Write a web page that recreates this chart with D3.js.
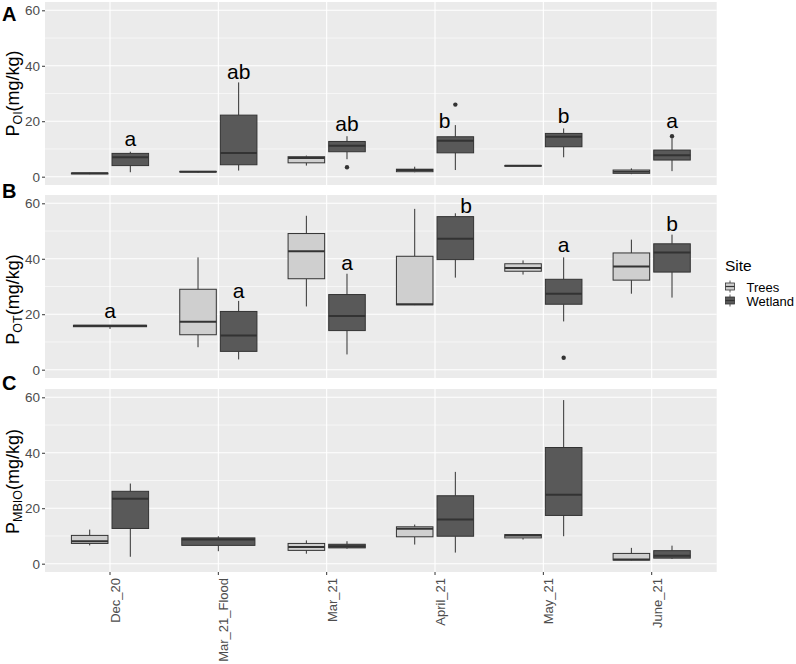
<!DOCTYPE html>
<html>
<head>
<meta charset="utf-8">
<script src="https://cdn.jsdelivr.net/npm/d3@7"></script>
<style>
	body { margin: 0; background: #fff; }
	text { font-family: "Liberation Sans", Arial, sans-serif; }
</style>
</head>
<body>
<svg id="svg" width="796" height="664"></svg>
<script>
"use strict";

// ---- data ----
const categories = ["Dec_20", "Mar_21_Flood", "Mar_21", "April_21", "May_21", "June_21"];
const sites = ["Trees", "Wetland"];
const yTicks = [0, 20, 40, 60];
const yMinor = [10, 30, 50];

// [category, site, lower whisker, q1, median, q3, upper whisker, outliers]
const poiStats = [
	["Dec_20", "Trees", 0.9, 1.0, 1.2, 1.3, 1.4, []],
	["Dec_20", "Wetland", 1.6, 4.0, 7.0, 8.4, 9.0, []],
	["Mar_21_Flood", "Trees", 1.5, 1.7, 1.8, 1.9, 2.0, []],
	["Mar_21_Flood", "Wetland", 2.2, 4.3, 8.5, 22.2, 34.0, []],
	["Mar_21", "Trees", 4.0, 5.0, 6.7, 7.2, 7.6, []],
	["Mar_21", "Wetland", 6.3, 9.0, 11.2, 12.7, 14.6, [3.4]],
	["April_21", "Trees", 1.6, 1.8, 2.4, 2.7, 3.6, []],
	["April_21", "Wetland", 2.4, 8.6, 13.0, 14.4, 18.6, [26.0]],
	["May_21", "Trees", 3.7, 3.8, 3.9, 4.0, 4.1, []],
	["May_21", "Wetland", 7.0, 10.8, 14.4, 15.6, 17.4, []],
	["June_21", "Trees", 0.9, 1.2, 1.8, 2.4, 3.0, []],
	["June_21", "Wetland", 2.0, 6.0, 7.7, 9.6, 13.8, [14.6]],
];

const potStats = [
	["Dec_20", "Wetland", 14.7, 15.5, 15.8, 16.0, 16.1, []],
	["Mar_21_Flood", "Trees", 8.1, 12.6, 17.3, 29.0, 40.5, []],
	["Mar_21_Flood", "Wetland", 3.7, 6.6, 12.3, 21.0, 24.8, []],
	["Mar_21", "Trees", 22.8, 32.8, 42.7, 49.1, 55.5, []],
	["Mar_21", "Wetland", 5.5, 14.1, 19.4, 27.1, 34.6, []],
	["April_21", "Trees", 23.3, 23.4, 23.6, 40.9, 58.0, []],
	["April_21", "Wetland", 33.2, 39.7, 47.2, 55.2, 56.4, []],
	["May_21", "Trees", 34.3, 35.5, 36.7, 38.2, 39.4, []],
	["May_21", "Wetland", 17.4, 23.6, 27.4, 32.6, 40.5, [4.3]],
	["June_21", "Trees", 27.4, 32.3, 37.2, 42.1, 46.9, []],
	["June_21", "Wetland", 26.0, 35.2, 42.3, 45.4, 48.7, []],
];

const pmbioStats = [
	["Dec_20", "Trees", 6.6, 7.3, 8.1, 10.2, 12.3, []],
	["Dec_20", "Wetland", 2.5, 12.7, 23.4, 26.1, 28.9, []],
	["Mar_21_Flood", "Wetland", 4.5, 6.6, 8.7, 9.3, 9.9, []],
	["Mar_21", "Trees", 3.6, 4.8, 6.0, 7.3, 8.4, []],
	["Mar_21", "Wetland", 5.4, 5.7, 6.3, 7.0, 8.1, []],
	["April_21", "Trees", 6.9, 9.7, 12.6, 13.3, 14.1, []],
	["April_21", "Wetland", 4.0, 9.9, 15.9, 24.5, 33.1, []],
	["May_21", "Trees", 8.7, 9.3, 10.2, 10.5, 10.7, []],
	["May_21", "Wetland", 9.9, 17.4, 24.9, 41.9, 59.0, []],
	["June_21", "Trees", 1.2, 1.3, 1.5, 3.7, 5.7, []],
	["June_21", "Wetland", 1.7, 2.0, 2.9, 4.7, 6.5, []],
];

// significance letters: [category, letter, y value, nudge in category units]
const poiLetters = [
	["Dec_20", "a", 11.2, 0],
	["Mar_21_Flood", "ab", 35.1, 0],
	["Mar_21", "ab", 16.6, 0],
	["April_21", "b", 17.4, -0.1],
	["May_21", "b", 19.4, 0],
	["June_21", "a", 17.4, 0],
];
const potLetters = [
	["Dec_20", "a", 18.5, 0],
	["Mar_21_Flood", "a", 25.8, 0],
	["Mar_21", "a", 35.9, 0],
	["April_21", "b", 56.4, 0.1],
	["May_21", "a", 42.3, 0],
	["June_21", "b", 50.1, 0],
];
const pmbioLetters = [];

// ---- layout ----
const svg = d3.select("#svg");
const left = 45;
const right = 716.7;
const panelH = 183;

const x = d3.scalePoint().domain(categories).range([left, right]).padding(0.6);
const step = x.step();

const fillColor = d3.scaleOrdinal().domain(sites).range(["#cfcfcf", "#595959"]);
const lineColor = "#333333";

const panels = [
	{ letter: "A", top: 2, stats: poiStats, letters: poiLetters, sub: "OI", titleShift: 0, labelY: 20.5 },
	{ letter: "B", top: 195, stats: potStats, letters: potLetters, sub: "OT", titleShift: 13, labelY: 198 },
	{ letter: "C", top: 389, stats: pmbioStats, letters: pmbioLetters, sub: "MBIO", titleShift: 1, labelY: 390, showX: true },
];

panels.forEach((p) => drawPanel(p));
drawLegend();

function drawPanel(p) {
	const y = d3.scaleLinear().domain([-3, 63]).range([p.top + panelH, p.top]);
	const g = svg.append("g").attr("class", "panel");

	// background + grid
	g.append("rect")
		.attr("x", left)
		.attr("y", p.top)
		.attr("width", right - left)
		.attr("height", panelH)
		.attr("fill", "#ebebeb");

	g.selectAll(".minor")
		.data(yMinor)
		.enter()
		.append("line")
		.attr("x1", left)
		.attr("x2", right)
		.attr("y1", (d) => y(d))
		.attr("y2", (d) => y(d))
		.attr("stroke", "#fff")
		.attr("stroke-width", 0.55);

	g.selectAll(".major")
		.data(yTicks)
		.enter()
		.append("line")
		.attr("x1", left)
		.attr("x2", right)
		.attr("y1", (d) => y(d))
		.attr("y2", (d) => y(d))
		.attr("stroke", "#fff")
		.attr("stroke-width", 1.1);

	g.selectAll(".vgrid")
		.data(categories)
		.enter()
		.append("line")
		.attr("x1", (d) => x(d))
		.attr("x2", (d) => x(d))
		.attr("y1", p.top)
		.attr("y2", p.top + panelH)
		.attr("stroke", "#fff")
		.attr("stroke-width", 1.1);

	// y axis
	const yAxis = d3.axisLeft(y).tickValues(yTicks).tickSize(3).tickPadding(2);
	const ya = g.append("g").attr("transform", `translate(${left},0)`).call(yAxis);
	ya.select(".domain").remove();
	ya.selectAll(".tick line").attr("stroke", lineColor);
	ya.selectAll(".tick text")
		.attr("fill", "#4d4d4d")
		.style("font-size", "13.5px")
		.style("font-family", '"Liberation Sans", Arial, sans-serif');

	// boxes
	const counts = d3.rollup(p.stats, (v) => v.length, (d) => d[0]);
	const boxes = p.stats.map((d) => {
		const single = counts.get(d[0]) === 1;
		const w = single ? step * 0.675 : step * 0.3375;
		const cx = single ? x(d[0]) : x(d[0]) + (d[1] === "Trees" ? -1 : 1) * step * 0.1875;
		return { cat: d[0], site: d[1], lo: d[2], q1: d[3], med: d[4], q3: d[5], hi: d[6], out: d[7], cx: cx, w: w };
	});

	const bx = g.selectAll(".box").data(boxes).enter().append("g").attr("class", "box");

	bx.append("line")
		.attr("x1", (d) => d.cx)
		.attr("x2", (d) => d.cx)
		.attr("y1", (d) => y(d.hi))
		.attr("y2", (d) => y(d.q3))
		.attr("stroke", lineColor)
		.attr("stroke-width", 1);
	bx.append("line")
		.attr("x1", (d) => d.cx)
		.attr("x2", (d) => d.cx)
		.attr("y1", (d) => y(d.q1))
		.attr("y2", (d) => y(d.lo))
		.attr("stroke", lineColor)
		.attr("stroke-width", 1);
	bx.append("rect")
		.attr("x", (d) => d.cx - d.w / 2)
		.attr("y", (d) => y(d.q3))
		.attr("width", (d) => d.w)
		.attr("height", (d) => Math.max(0.5, y(d.q1) - y(d.q3)))
		.attr("fill", (d) => fillColor(d.site))
		.attr("stroke", lineColor)
		.attr("stroke-width", 1);
	bx.append("line")
		.attr("x1", (d) => d.cx - d.w / 2)
		.attr("x2", (d) => d.cx + d.w / 2)
		.attr("y1", (d) => y(d.med))
		.attr("y2", (d) => y(d.med))
		.attr("stroke", lineColor)
		.attr("stroke-width", 2);
	bx.selectAll(".outlier")
		.data((d) => d.out.map((v) => ({ cx: d.cx, v: v })))
		.enter()
		.append("circle")
		.attr("cx", (d) => d.cx)
		.attr("cy", (d) => y(d.v))
		.attr("r", 2.2)
		.attr("fill", lineColor);

	// letters over wetland boxes
	g.selectAll(".sig")
		.data(p.letters)
		.enter()
		.append("text")
		.attr("x", (d) => {
			const single = counts.get(d[0]) === 1;
			return x(d[0]) + (single ? 0 : step * 0.1875) + d[3] * step;
		})
		.attr("y", (d) => y(d[2]))
		.attr("text-anchor", "middle")
		.style("font-size", "21px")
		.attr("fill", "#000")
		.text((d) => d[1]);

	// x axis (bottom panel only)
	if (p.showX) {
		const bottom = p.top + panelH;
		g.selectAll(".xtick")
			.data(categories)
			.enter()
			.append("line")
			.attr("x1", (d) => x(d))
			.attr("x2", (d) => x(d))
			.attr("y1", bottom)
			.attr("y2", bottom + 3)
			.attr("stroke", lineColor);
		g.selectAll(".xlab")
			.data(categories)
			.enter()
			.append("text")
			.attr("transform", (d) => `translate(${x(d) + 10},${bottom + 6}) rotate(-90)`)
			.attr("text-anchor", "end")
			.attr("fill", "#4d4d4d")
			.style("font-size", "13px")
			.text((d) => d);
	}

	// y title with subscript
	const ty = p.top + panelH / 2 + p.titleShift;
	const title = g.append("text")
		.attr("transform", `translate(19,${ty}) rotate(-90)`)
		.attr("text-anchor", "middle")
		.style("font-size", "18px")
		.attr("fill", "#000");
	title.append("tspan").text("P");
	title.append("tspan").attr("baseline-shift", "-25%").style("font-size", "12.5px").text(p.sub);
	title.append("tspan").attr("baseline-shift", "0").text("(mg/kg)");

	// panel letter
	svg.append("text")
		.attr("x", 2)
		.attr("y", p.labelY)
		.style("font-size", "20px")
		.style("font-weight", "bold")
		.attr("fill", "#000")
		.text(p.letter);
}

function drawLegend() {
	const lg = svg.append("g").attr("class", "legend");
	lg.append("text")
		.attr("x", 725)
		.attr("y", 271)
		.style("font-size", "15.5px")
		.attr("fill", "#000")
		.text("Site");

	const keyY = d3.scalePoint().domain(sites).range([286.5, 300.5]);

	const key = lg.selectAll(".key")
		.data(sites)
		.enter()
		.append("g")
		.attr("class", "key")
		.attr("transform", (d) => `translate(730,${keyY(d)})`);

	key.append("line")
		.attr("y1", -6)
		.attr("y2", 6)
		.attr("stroke", lineColor)
		.attr("stroke-width", 0.8);
	key.append("rect")
		.attr("x", -4.5)
		.attr("y", -3.5)
		.attr("width", 9)
		.attr("height", 7)
		.attr("fill", (d) => fillColor(d))
		.attr("stroke", lineColor)
		.attr("stroke-width", 0.8);
	key.append("line")
		.attr("x1", -4.5)
		.attr("x2", 4.5)
		.attr("stroke", lineColor)
		.attr("stroke-width", 1.2);

	key.append("text")
		.attr("x", 16.5)
		.attr("y", 5)
		.style("font-size", "13px")
		.attr("fill", "#000")
		.text((d) => d);
}
</script>
</body>
</html>
